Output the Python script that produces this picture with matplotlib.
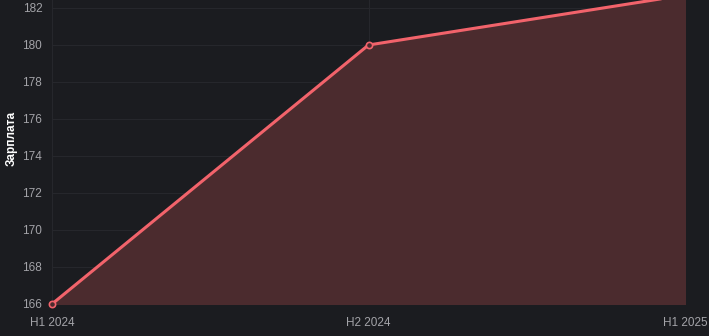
import matplotlib.pyplot as plt

plt.rcParams['font.family'] = ['Liberation Sans', 'DejaVu Sans']

# data
periods = ['H1 2024', 'H2 2024', 'H1 2025']
salary = [166, 180, 182.7]
yticks = [166, 168, 170, 172, 174, 176, 178, 180, 182]

bg = '#1b1c20'
line_col = '#f2636b'
fill_col = '#4b2b2e'

fig = plt.figure(figsize=(7.09, 3.36), dpi=100, facecolor=bg)
# axes: left 52px, right 685px, bottom at y=304px, top at figure top
ax = fig.add_axes([52/709, 32/336, 633/709, 304/336])
ax.set_facecolor(bg)

x = list(range(len(periods)))
ax.fill_between(x, salary, 166, color=fill_col, zorder=1)
ax.plot(x, salary, color=line_col, lw=2.2, zorder=3)
ax.plot(x, salary, 'o', ms=4.5, mfc=fill_col, mec=line_col, mew=1.2, zorder=4, clip_on=False)

ax.set_xlim(0, 2)
ax.set_ylim(166, 182 + 8/18.5)
ax.set_xticks(x)
ax.set_xticklabels(periods)
ax.set_yticks(yticks)

ax.grid(True, color='#26272c', lw=0.8)
ax.set_axisbelow(True)
for s in ax.spines.values():
    s.set_visible(False)
ax.tick_params(colors='#a3a3a8', labelsize=8.5, length=0, pad=7)
ax.tick_params(axis='x', pad=9)
fig.text(12/709, 1 - 138/336, 'Зарплата', color='white', fontsize=8.5,
         fontweight='bold', rotation=90, ha='center', va='center')

fig.savefig('out.png', dpi=100, facecolor=bg)
